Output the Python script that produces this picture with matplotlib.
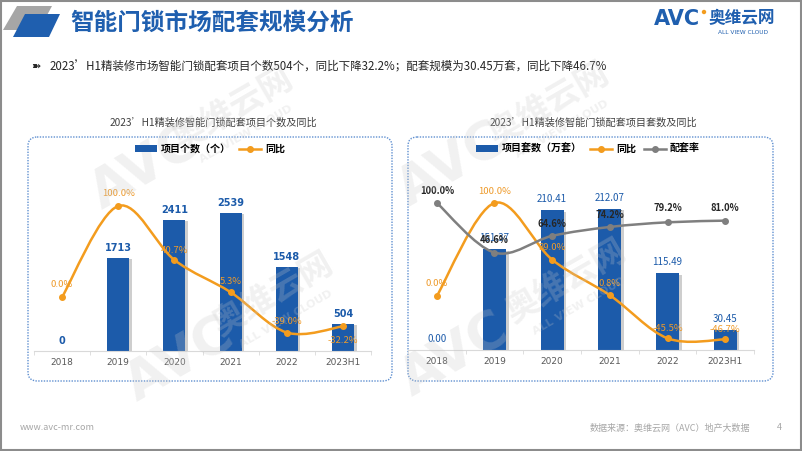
import numpy as np
import matplotlib
matplotlib.use('Agg')
import matplotlib.pyplot as plt
from matplotlib.patches import FancyBboxPatch, Polygon, Rectangle, PathPatch, Patch, Circle
from matplotlib.path import Path
from matplotlib.lines import Line2D
import matplotlib.patheffects as pe

plt.rcParams['font.family'] = ['Noto Sans CJK SC', 'DejaVu Sans']

# ---------------- data ----------------
categories = ['2018', '2019', '2020', '2021', '2022', '2023H1']
projects = [0, 1713, 2411, 2539, 1548, 504]                 # 项目个数（个）
projects_yoy = [0.0, 100.0, 40.7, 5.3, -39.0, -32.2]        # 同比 %
sets_wan = [0.00, 151.37, 210.41, 212.07, 115.49, 30.45]    # 项目套数（万套）
sets_yoy = [0.0, 100.0, 39.0, 0.8, -45.5, -46.7]            # 同比 %
match_rate = [100.0, 46.6, 64.6, 74.2, 79.2, 81.0]          # 配套率 %

BLUE = '#1C5BAA'
ORANGE = '#F39C1E'
ORANGE_TXT = '#EE9A2A'
GREY = '#7F7F7F'
TITLE_BLUE = '#1F5FAF'

W, H = 802, 451
fig = plt.figure(figsize=(W / 100, H / 100), dpi=100)
fig.patch.set_facecolor('white')
bg = fig.add_axes([0, 0, 1, 1])
bg.set_xlim(0, W)
bg.set_ylim(H, 0)
bg.axis('off')


def ax_rect(x0, y0, x1, y1):
    return [x0 / W, 1 - y1 / H, (x1 - x0) / W, (y1 - y0) / H]


# slide border
bg.add_patch(Rectangle((0.75, 0.75), W - 1.5, H - 1.5, fill=False, ec='#8C8C8C', lw=1.5))

# title decoration
bg.add_patch(Polygon([(17, 6), (52, 6), (39, 30), (3, 30)], closed=True, fc='#A6A6A6', ec='none'))
bg.add_patch(Polygon([(25, 14), (60, 14), (49, 37), (13, 37)], closed=True, fc=TITLE_BLUE, ec='none'))
bg.text(70, 23, '智能门锁市场配套规模分析', fontsize=17, fontweight='bold', color=TITLE_BLUE,
        ha='left', va='center')

# logo
bg.text(654, 19, 'AVC', fontsize=15, fontweight='bold', color=TITLE_BLUE, ha='left', va='center',
        family=['DejaVu Sans'])
bg.add_patch(Circle((704, 12), 2.2, fc=ORANGE, ec='none'))
bg.text(742, 18, '奥维云网', fontsize=12, fontweight='bold', color=TITLE_BLUE, ha='center', va='center')
bg.text(743, 33, 'ALL VIEW CLOUD', fontsize=4.2, color=TITLE_BLUE, ha='center', va='center',
        family=['DejaVu Sans'])

# bullet
bg.text(36, 67, '➽', fontsize=8, color='#262626', ha='center', va='center', family=['DejaVu Sans'])
bg.text(50, 67, '2023’H1精装修市场智能门锁配套项目个数504个，同比下降32.2%；配套规模为30.45万套，同比下降46.7%',
        fontsize=8.3, color='#262626', ha='left', va='center')

# chart titles
bg.text(213, 123, '2023’H1精装修智能门锁配套项目个数及同比', fontsize=7.3, color='#404040',
        ha='center', va='center')
bg.text(593, 123, '2023’H1精装修智能门锁配套项目套数及同比', fontsize=7.3, color='#404040',
        ha='center', va='center')

# chart boxes
for (bx, bw) in [(28, 364), (408, 365)]:
    bg.add_patch(FancyBboxPatch((bx, 137), bw, 244, boxstyle='round,pad=0,rounding_size=9',
                                fill=False, ec='#5F8FD0', lw=1.0, ls=(0, (1, 1))))

# footer
bg.text(20, 427, 'www.avc-mr.com', fontsize=6.5, color='#A6A6A6', ha='left', va='center')
bg.text(750, 428, '数据来源：奥维云网（AVC）地产大数据', fontsize=6.5, color='#A6A6A6',
        ha='right', va='center')
bg.text(779, 428, '4', fontsize=6.5, color='#A6A6A6', ha='center', va='center')


def smooth_path(xs, ys):
    n = len(xs)
    verts = [(xs[0], ys[0])]
    codes = [Path.MOVETO]
    for i in range(n - 1):
        p0 = i - 1 if i > 0 else i
        p3 = i + 2 if i + 2 < n else i + 1
        c1 = (xs[i] + (xs[i + 1] - xs[p0]) / 6, ys[i] + (ys[i + 1] - ys[p0]) / 6)
        c2 = (xs[i + 1] - (xs[p3] - xs[i]) / 6, ys[i + 1] - (ys[p3] - ys[i]) / 6)
        verts += [c1, c2, (xs[i + 1], ys[i + 1])]
        codes += [Path.CURVE4] * 3
    return Path(verts, codes)


def setup_axes(rect, ylim1, ylim2):
    ax = fig.add_axes(rect)
    ax.patch.set_alpha(0)
    ax.set_xlim(-0.5, len(categories) - 0.5)
    ax.set_ylim(*ylim1)
    for s in ['top', 'left', 'right']:
        ax.spines[s].set_visible(False)
    ax.spines['bottom'].set_color('#D9D9D9')
    ax.set_yticks([])
    ax.set_xticks(range(len(categories)))
    ax.set_xticklabels(categories, fontsize=6.5, color='#595959', family=['DejaVu Sans'])
    ax.tick_params(axis='x', which='major', length=0, pad=5)
    ax.set_xticks(np.arange(-0.5, len(categories), 1.0), minor=True)
    ax.tick_params(axis='x', which='minor', length=3, color='#D9D9D9', direction='out')
    ax2 = ax.twinx()
    ax2.set_ylim(*ylim2)
    ax2.axis('off')
    return ax, ax2


def draw_line(ax2, vals, color, offsets, txt_color, bold=False):
    x = list(range(len(vals)))
    ax2.add_patch(PathPatch(smooth_path(x, vals), fill=False, ec=color, lw=1.8, zorder=3))
    ax2.plot(x, vals, 'o', ms=4, color=color, zorder=4)
    for i, v in enumerate(vals):
        ax2.annotate(f'{v:.1f}%', (i, v), xytext=(0, offsets[i]), textcoords='offset pixels',
                     ha='center', va='center', fontsize=6.8, color=txt_color,
                     fontweight='bold' if bold else 'normal', zorder=5)


shadow = [pe.SimplePatchShadow(offset=(2, -1), shadow_rgbFace='#9E9E9E', alpha=0.5), pe.Normal()]

# ---------------- left chart ----------------
axL, axL2 = setup_axes(ax_rect(34, 160, 371, 351), (0, 3514), (-59.3, 150.5))
axL.bar(range(len(categories)), projects, width=0.39, color=BLUE, zorder=2, path_effects=shadow)
for i, v in enumerate(projects):
    axL.annotate(str(v), (i, v), xytext=(0, 10), textcoords='offset pixels', ha='center', va='center',
                 fontsize=7, fontweight='bold', color=BLUE, family=['DejaVu Sans'])
draw_line(axL2, projects_yoy, ORANGE, [13, 12, 9, 11, 11, -14], ORANGE_TXT)

fig.legend(handles=[Patch(fc=BLUE, ec='none'),
                    Line2D([], [], color=ORANGE, lw=1.8, marker='o', ms=4)],
           labels=['项目个数（个）', '同比'], loc='center', bbox_to_anchor=(210 / W, 1 - 149 / H),
           ncol=2, frameon=False, prop={'weight': 'bold', 'size': 7.2},
           handlelength=2.2, handleheight=0.6, columnspacing=0.8, handletextpad=0.4)

# ---------------- right chart ----------------
axR, axR2 = setup_axes(ax_rect(408, 160, 754, 350), (0, 285.8), (-58.1, 146.2))
axR.bar(range(len(categories)), sets_wan, width=0.4, color=BLUE, zorder=2, path_effects=shadow)
for i, v in enumerate(sets_wan):
    axR.annotate(f'{v:.2f}', (i, v), xytext=(0, 11), textcoords='offset pixels', ha='center', va='center',
                 fontsize=7, color=BLUE, zorder=5)
draw_line(axR2, sets_yoy, ORANGE, [12, 11, 12, 12, 10, 10], ORANGE_TXT)
draw_line(axR2, match_rate, GREY, [12, 13, 12, 12, 14, 13], '#262626', bold=True)

fig.legend(handles=[Patch(fc=BLUE, ec='none'),
                    Line2D([], [], color=ORANGE, lw=1.8, marker='o', ms=4),
                    Line2D([], [], color=GREY, lw=1.8, marker='o', ms=4)],
           labels=['项目套数（万套）', '同比', '配套率'], loc='center', bbox_to_anchor=(588 / W, 1 - 149 / H),
           ncol=3, frameon=False, prop={'weight': 'bold', 'size': 7.2},
           handlelength=2.2, handleheight=0.6, columnspacing=0.8, handletextpad=0.4)

# ---------------- watermarks ----------------
wm = fig.add_axes([0, 0, 1, 1])
wm.set_xlim(0, W)
wm.set_ylim(H, 0)
wm.axis('off')
wm.patch.set_alpha(0)
for (ax_, ay_, bx_, by_) in [(145, 168, 232, 110), (180, 360, 272, 295),
                             (452, 165, 548, 105), (455, 355, 565, 282)]:
    wm.text(ax_, ay_, 'AVC', fontsize=38, fontweight='bold', color='#C8C8C8', alpha=0.25,
            rotation=30, ha='center', va='center', family=['DejaVu Sans'])
    wm.text(bx_, by_, '奥维云网', fontsize=24, fontweight='bold', color='#C8C8C8', alpha=0.25,
            rotation=30, ha='center', va='center')
    wm.text(bx_ + 14, by_ + 24, 'ALL VIEW CLOUD', fontsize=8, fontweight='bold', color='#C8C8C8',
            alpha=0.25, rotation=30, ha='center', va='center', family=['DejaVu Sans'])

fig.savefig('out.png', dpi=100)
